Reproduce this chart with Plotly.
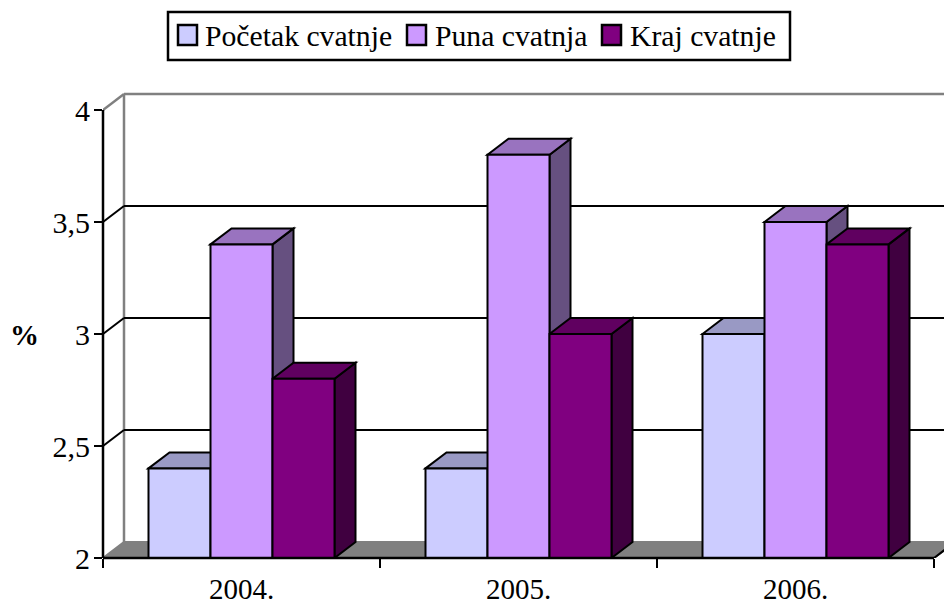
import plotly.graph_objects as go

years = ["2004.", "2005.", "2006."]
series_names = ["Početak cvatnje", "Puna cvatnja", "Kraj cvatnje"]
pocetak = [2.4, 2.4, 3.0]
puna = [3.4, 3.8, 3.5]
kraj = [2.8, 3.0, 3.4]
front_colors = ["#CCCCFF", "#CC99FF", "#800080"]
top_colors = ["#9999C4", "#9973BF", "#600060"]
side_colors = ["#666680", "#665080", "#400040"]
y_ticks = [2, 2.5, 3, 3.5, 4]
y_tick_text = ["2", "2,5", "3", "3,5", "4"]

W, H = 944, 605
LEFT, RIGHT_TICK, BASE, TOP4 = 103, 934, 558, 110
PLOT_TOP = 85
CAT_PX = (RIGHT_TICK - LEFT) / 3
UNIT_PX = (BASE - TOP4) / 2
DX_PX, DY_PX = 21, 16
dx, dy = DX_PX / CAT_PX, DY_PX / UNIT_PX
BAR_W = 62 / CAT_PX
FONT = "Liberation Serif"

x_range = [-0.5, -0.5 + (W - LEFT) / CAT_PX]
y_range = [2, 4 + (TOP4 - PLOT_TOP) / UNIT_PX]


def px(x):
    return (x - LEFT) / (W - LEFT)


def py(y):
    return (BASE - y) / (BASE - PLOT_TOP)


def poly(points):
    return "M " + " L ".join(f"{a:.5f} {b:.5f}" for a, b in points) + " Z"


shapes = []
annotations = []


def data_line(x0, y0, x1, y1, color, width):
    shapes.append(dict(type="line", xref="x", yref="y", x0=x0, y0=y0, x1=x1, y1=y1,
                       layer="below", line=dict(color=color, width=width)))


def paper_line(x0, y0, x1, y1, color, width):
    shapes.append(dict(type="line", xref="paper", yref="paper", x0=px(x0), y0=py(y0),
                       x1=px(x1), y1=py(y1), layer="above", line=dict(color=color, width=width)))


# floor
shapes.append(dict(type="path", xref="x", yref="y", layer="below",
                   path=poly([(-0.5, 2), (-0.5 + dx, 2 + dy), (2.5 + dx, 2 + dy), (2.5, 2)]),
                   fillcolor="#808080", line=dict(color="#808080", width=2)))
data_line(2.5, 2, 2.5 + dx, 2 + dy, "#000000", 2)

# back wall
data_line(-0.5 + dx, 2 + dy, -0.5 + dx, 4 + dy, "#808080", 2.5)
data_line(-0.5 + dx, 4 + dy, x_range[1], 4 + dy, "#808080", 2.5)
data_line(-0.5, 4, -0.5 + dx, 4 + dy, "#808080", 2.5)
for t in y_ticks[1:-1]:
    data_line(-0.5 + dx, t + dy, x_range[1], t + dy, "#000000", 2)
    data_line(-0.5, t, -0.5 + dx, t + dy, "#000000", 2)

# depth faces
all_values = [pocetak, puna, kraj]
for i in range(len(years)):
    for j, vals in enumerate(all_values):
        v = vals[i]
        x0 = i + (j - 1.5) * BAR_W
        x1 = x0 + BAR_W
        shapes.append(dict(type="path", xref="x", yref="y", layer="below",
                           path=poly([(x1, 2), (x1 + dx, 2 + dy), (x1 + dx, v + dy), (x1, v)]),
                           fillcolor=side_colors[j], line=dict(color="#000000", width=2)))
        shapes.append(dict(type="path", xref="x", yref="y", layer="below",
                           path=poly([(x0, v), (x0 + dx, v + dy), (x1 + dx, v + dy), (x1, v)]),
                           fillcolor=top_colors[j], line=dict(color="#000000", width=2)))

# axis lines
paper_line(LEFT, BASE, LEFT, TOP4, "#000000", 2.5)
paper_line(LEFT, BASE, RIGHT_TICK, BASE, "#000000", 2.5)

# legend
shapes.append(dict(type="rect", xref="paper", yref="paper", x0=px(168), x1=px(790),
                   y0=py(60), y1=py(12), line=dict(color="#000000", width=2.5), fillcolor="#FFFFFF"))
swatch_x = [178, 407, 602]
text_x = [205, 435, 630]
for name, color, sx, tx in zip(series_names, front_colors, swatch_x, text_x):
    shapes.append(dict(type="rect", xref="paper", yref="paper", x0=px(sx), x1=px(sx + 19),
                       y0=py(45), y1=py(25), fillcolor=color, line=dict(color="#000000", width=2.5)))
    annotations.append(dict(text=name, xref="paper", yref="paper", x=px(tx), y=py(35.5),
                            xanchor="left", yanchor="middle", showarrow=False,
                            xshift=-2, font=dict(family=FONT, size=29.7, color="#000000")))

annotations.append(dict(text="<b>%</b>", xref="paper", yref="paper", x=px(24), y=py(335),
                        xanchor="center", yanchor="middle", showarrow=False,
                        font=dict(family=FONT, size=29, color="#000000")))

fig = go.Figure()
for name, vals, color in zip(series_names, all_values, front_colors):
    fig.add_trace(go.Bar(name=name, x=years, y=[v - 2 for v in vals], base=2,
                         marker=dict(color=color, line=dict(color="#000000", width=2)),
                         hoverinfo="skip"))

fig.update_layout(
    width=W, height=H, autosize=False, showlegend=False,
    paper_bgcolor="#FFFFFF", plot_bgcolor="#FFFFFF",
    margin=dict(l=LEFT, r=0, t=PLOT_TOP, b=H - BASE, pad=0, autoexpand=False),
    barmode="group", bargap=1 - 3 * BAR_W, bargroupgap=0,
    font=dict(family=FONT, size=29, color="#000000"),
    shapes=shapes, annotations=annotations,
)
fig.update_xaxes(type="category", categoryorder="array", categoryarray=years,
                 range=x_range, showgrid=False, zeroline=False, showline=False, automargin=False,
                 ticks="outside", tickson="boundaries", ticklen=9, tickwidth=2, tickcolor="#000000",
                 ticklabelstandoff=11, tickfont=dict(family=FONT, size=29))
fig.update_yaxes(range=y_range, showgrid=False, zeroline=False, showline=False, automargin=False,
                 tickmode="array", tickvals=y_ticks, ticktext=y_tick_text,
                 ticks="outside", ticklen=8, tickwidth=2, tickcolor="#000000",
                 ticklabelstandoff=-2, tickfont=dict(family=FONT, size=30))

fig.write_html("out.html", config=dict(displayModeBar=False),
               post_script="document.body.style.margin='0';")
